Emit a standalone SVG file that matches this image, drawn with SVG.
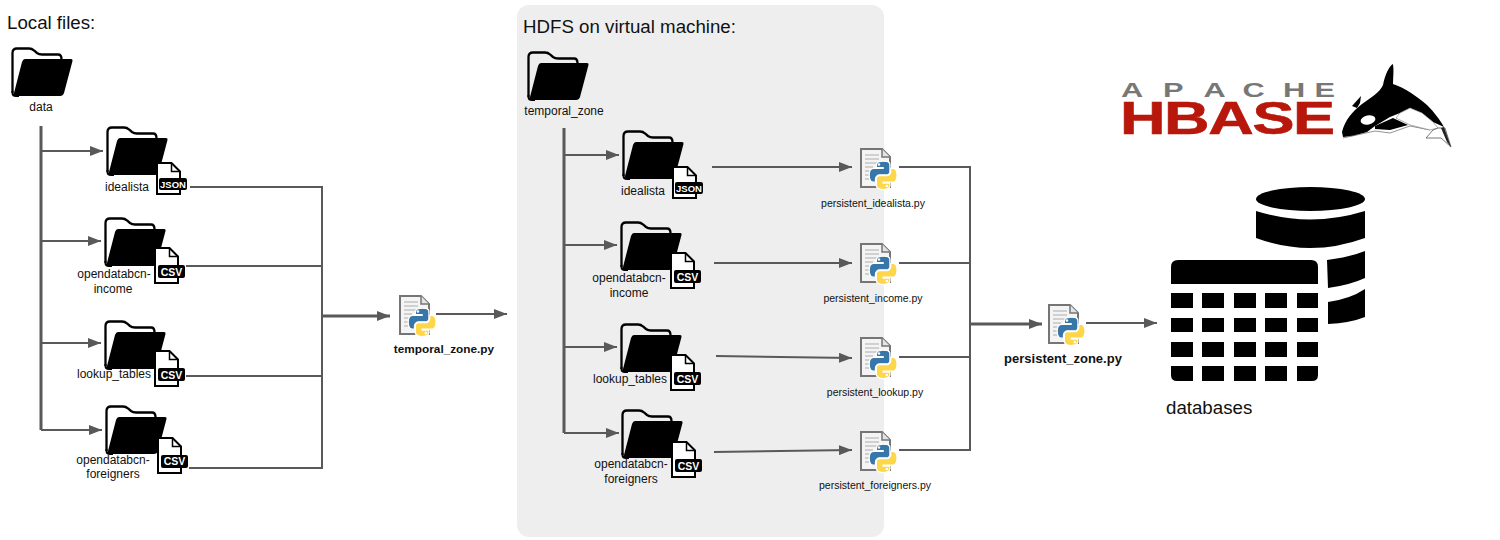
<svg xmlns="http://www.w3.org/2000/svg" width="1500" height="540" viewBox="0 0 1500 540">
<style>
text{font-family:"Liberation Sans",Arial,sans-serif;fill:#111}
.l{font-size:12px;text-anchor:middle}
.p{font-size:10.500px;text-anchor:middle}
.b{font-size:13px;font-weight:bold;text-anchor:middle}
.h{font-size:18.700px}
.c{fill:none;stroke:#595959;stroke-width:2}
.t{fill:none;stroke:#595959;stroke-width:3}
.csv{font-size:10.500px;font-weight:bold;fill:#fff;text-anchor:middle}
.json{font-size:9.500px;font-weight:bold;fill:#fff;text-anchor:middle}
</style>
<defs>
<marker id="a" markerUnits="userSpaceOnUse" markerWidth="13" markerHeight="10" refX="13" refY="5" orient="auto"><path d="M0,0L13,5L0,10Z" fill="#595959"/></marker>
<symbol id="folder" overflow="visible" width="62" height="50">
<path d="M1.500,46V6Q1.500,1.500 6,1.500H18Q21,1.500 23,3.500L26,6Q28,7.500 31,7.500H47Q50.500,7.500 50.500,12" fill="none" stroke="#000" stroke-width="2.300"/>
<path d="M1.500,44V46Q1.500,49 5,49H8" fill="none" stroke="#000" stroke-width="2"/>
<path d="M14,12H60Q62,12 61.500,14L53,46Q52,49 49,49H5Q2,49 3,46L11,15Q12,12 14,12Z" fill="#000"/>
</symbol>
<symbol id="csvdoc" overflow="visible" width="31" height="38">
<path d="M1,1H15.500L24,9.500V36H1Z" fill="#fff" stroke="#000" stroke-width="2"/>
<path d="M15.500,1V9.500H24" fill="none" stroke="#000" stroke-width="1.500"/>
<rect x="4" y="18" width="27" height="13" rx="2" fill="#000"/>
</symbol>
<symbol id="jsondoc" overflow="visible" width="31" height="33">
<path d="M1,1H15.500L24,9.500V32H1Z" fill="#fff" stroke="#000" stroke-width="2"/>
<path d="M15.500,1V9.500H24" fill="none" stroke="#000" stroke-width="1.500"/>
<rect x="3" y="16" width="28" height="12" rx="2" fill="#000"/>
</symbol>
<symbol id="py" overflow="visible" width="37" height="42">
<path d="M1,1H22L30,9V39H1Z" fill="#f4f4f4" stroke="#757575" stroke-width="2"/>
<path d="M22,1V9H30" fill="#e4e4e4" stroke="#757575" stroke-width="1.500"/>
<path d="M5,7H19M5,11H19M5,15H25M5,19H13M5,23H10M5,27H10M5,31H11" stroke="#c4c4c4" stroke-width="1.500" fill="none"/>
<g transform="translate(9,13) scale(.255)">
<path d="M54.900,.9C50.300,.9 45.900,1.300 42.100,2C30.800,4 28.800,8.100 28.800,15.700V25.800H55.400V29.100H18.800C11.100,29.100 4.300,33.800 2.200,42.600C-.2,52.700 -.3,59 2.200,69.500C4.100,77.300 8.600,82.900 16.300,82.900H25.400V70.800C25.400,62.100 33,54.400 42.100,54.400H68.700C76.100,54.400 82,48.300 82,40.900V15.700C82,8.500 75.900,3.100 68.700,1.900C64,1.100 59.200,.9 54.900,.9Z" fill="#3776a8" stroke="#fff" stroke-width="5"/>
<circle cx="39" cy="14" r="5" fill="#fff"/>
<path d="M85.300,29.100V40.900C85.300,50 77.600,57.700 68.700,57.700H42.100C34.800,57.700 28.800,63.900 28.800,71.200V96.500C28.800,103.700 35,107.900 42.100,110C50.500,112.500 58.600,112.900 68.700,110C75.400,108 82,104.100 82,96.500V86.400H55.400V83H95.300C103,83 105.900,77.600 108.600,69.500C111.400,61.100 111.300,53.100 108.600,42.600C106.700,35 103,29.100 95.300,29.100Z" fill="#fdd64a" stroke="#fff" stroke-width="5"/>
<circle cx="70" cy="98" r="5" fill="#fff"/>
</g>
</symbol>
</defs>

<rect id="hdfs-panel" x="517" y="5" width="367" height="532" rx="12" fill="#eeeeee"/>

<g id="connectors">
<path class="t" d="M41,126V430"/>
<path class="c" d="M41,151H103" marker-end="url(#a)"/>
<path class="c" d="M41,241H101" marker-end="url(#a)"/>
<path class="c" d="M41,343H101" marker-end="url(#a)"/>
<path class="c" d="M41,430H102" marker-end="url(#a)"/>
<path class="c" d="M190,187H322V468H189"/>
<path class="c" d="M186,266H322"/>
<path class="c" d="M186,376H322"/>
<path class="t" d="M322,316H390" marker-end="url(#a)"/>
<path class="c" d="M436,314H507" marker-end="url(#a)"/>
<path class="t" d="M564,128V433"/>
<path class="c" d="M564,155H619" marker-end="url(#a)"/>
<path class="c" d="M564,245H617" marker-end="url(#a)"/>
<path class="c" d="M564,347H617" marker-end="url(#a)"/>
<path class="c" d="M564,433H619" marker-end="url(#a)"/>
<path class="c" d="M712,167H852" marker-end="url(#a)"/>
<path class="c" d="M714,263H852" marker-end="url(#a)"/>
<path class="c" d="M716,356L852,358" marker-end="url(#a)"/>
<path class="c" d="M714,452L852,450" marker-end="url(#a)"/>
<path class="c" d="M899,167H970V450H899"/>
<path class="c" d="M899,263H970"/>
<path class="c" d="M899,357H970"/>
<path class="t" d="M970,324H1042" marker-end="url(#a)"/>
<path class="c" d="M1086,323H1157" marker-end="url(#a)"/>
</g>

<text id="title-local" class="h" x="7" y="29">Local files:</text>
<text id="title-hdfs" class="h" x="523" y="33">HDFS on virtual machine:</text>

<g id="local-data"><use href="#folder" x="11" y="47"/><text class="l" x="41" y="111">data</text></g>
<g id="local-idealista"><use href="#folder" x="106" y="126"/><use href="#jsondoc" x="156" y="162"/><text class="json" x="173" y="187.500">JSON</text><text class="l" x="127" y="191">idealista</text></g>
<g id="local-income"><use href="#folder" x="104" y="217"/><use href="#csvdoc" x="154" y="247"/><text class="csv" x="171.500" y="275.500">CSV</text><text class="l" x="114" y="278">opendatabcn-</text><text class="l" x="113" y="293">income</text></g>
<g id="local-lookup"><use href="#folder" x="104" y="320"/><use href="#csvdoc" x="154" y="350"/><text class="csv" x="171.500" y="378.500">CSV</text><text class="l" x="114" y="378">lookup_tables</text></g>
<g id="local-foreigners"><use href="#folder" x="105" y="405"/><use href="#csvdoc" x="157" y="437"/><text class="csv" x="174.500" y="465">CSV</text><text class="l" x="113" y="464">opendatabcn-</text><text class="l" x="113" y="478">foreigners</text></g>

<g id="hdfs-temporal"><use href="#folder" x="527" y="51"/><text class="l" x="564" y="115">temporal_zone</text></g>
<g id="hdfs-idealista"><use href="#folder" x="622" y="130"/><use href="#jsondoc" x="672" y="166"/><text class="json" x="689" y="191.500">JSON</text><text class="l" x="643" y="195">idealista</text></g>
<g id="hdfs-income"><use href="#folder" x="620" y="221"/><use href="#csvdoc" x="670" y="252"/><text class="csv" x="687.500" y="280.500">CSV</text><text class="l" x="629" y="282">opendatabcn-</text><text class="l" x="629" y="297">income</text></g>
<g id="hdfs-lookup"><use href="#folder" x="620" y="323"/><use href="#csvdoc" x="670" y="354"/><text class="csv" x="687.500" y="382.500">CSV</text><text class="l" x="630" y="383">lookup_tables</text></g>
<g id="hdfs-foreigners"><use href="#folder" x="621" y="409"/><use href="#csvdoc" x="671" y="441"/><text class="csv" x="688.500" y="469.500">CSV</text><text class="l" x="631" y="468">opendatabcn-</text><text class="l" x="631" y="483">foreigners</text></g>

<g id="temporal-script"><use href="#py" x="399" y="295"/><text class="b" style="font-size:11.800px" x="444" y="353">temporal_zone.py</text></g>
<g id="persistent-idealista"><use href="#py" x="860" y="148"/><text class="p" x="873" y="207">persistent_idealista.py</text></g>
<g id="persistent-income"><use href="#py" x="860" y="243"/><text class="p" x="873" y="302">persistent_income.py</text></g>
<g id="persistent-lookup"><use href="#py" x="860" y="337"/><text class="p" x="875" y="396">persistent_lookup.py</text></g>
<g id="persistent-foreigners"><use href="#py" x="860" y="431"/><text class="p" x="875" y="489">persistent_foreigners.py</text></g>
<g id="persistent-script"><use href="#py" x="1048" y="304"/><text class="b" x="1063" y="363">persistent_zone.py</text></g>

<g id="databases">
<ellipse cx="1310.500" cy="199" rx="54.500" ry="12"/>
<path d="M1256,211Q1310,228 1365,211V238Q1310,258 1256,238Z"/>
<path d="M1327,260Q1350,257 1365,251V278Q1350,285 1328,288Z"/>
<path d="M1328,302Q1350,299 1365,289V317Q1350,323 1328,324Z"/>
<path d="M1171,284V267Q1171,260 1178,260H1311Q1318,260 1318,267V284Z"/>
<g>
<rect x="1202" y="293" width="22" height="15"/><rect x="1234" y="293" width="22" height="15"/><rect x="1265" y="293" width="22" height="15"/><rect x="1171" y="293" width="22" height="15"/><rect x="1297" y="293" width="21" height="15"/>
<rect x="1202" y="318" width="22" height="14"/><rect x="1234" y="318" width="22" height="14"/><rect x="1265" y="318" width="22" height="14"/><rect x="1171" y="318" width="22" height="14"/><rect x="1297" y="318" width="21" height="14"/>
<rect x="1202" y="342" width="22" height="15"/><rect x="1234" y="342" width="22" height="15"/><rect x="1265" y="342" width="22" height="15"/><rect x="1171" y="342" width="22" height="15"/><rect x="1297" y="342" width="21" height="15"/>
<rect x="1202" y="366" width="22" height="15"/><rect x="1234" y="366" width="22" height="15"/><rect x="1265" y="366" width="22" height="15"/>
<path d="M1171,366H1193V381H1177Q1171,381 1171,375Z"/><path d="M1297,366H1318V375Q1318,381 1312,381H1297Z"/>
</g>
<text class="h" x="1166" y="414">databases</text>
</g>

<g id="hbase-logo">
<text transform="translate(1121,97) scale(1.5,1)" font-size="20.500" font-weight="bold" x="0 28 55 81 108 129" style="fill:#777">APACHE</text>
<text transform="translate(1120,134) scale(1.37,1)" font-size="46" font-weight="bold" textLength="157" lengthAdjust="spacing" style="fill:#b8170b;stroke:#b8170b;stroke-width:.6px">HBASE</text>
<path d="M1342,132C1345,120 1352,112 1362,104C1372,97 1380,92 1383,85C1385,75 1389,66 1393,64C1394,70 1393,78 1393,84C1405,88 1418,97 1427,105C1435,113 1440,120 1444,127L1433,122L1422,113L1410,108L1400,113L1390,117L1375,126L1367,132L1353,136L1343,137Z"/>
<path d="M1352,106L1361,96L1360,103L1357,108Z"/>
<ellipse cx="1368" cy="120" rx="7.500" ry="4.500" fill="#fff" transform="rotate(-12 1368 120)"/>
<path d="M1375,126L1393,118L1408,125L1390,130L1375,129Z"/>
<path d="M1343,138L1375,131L1390,133L1410,126L1430,130" fill="none" stroke="#777" stroke-width=".8"/>
<path d="M1400,113L1410,108L1422,113L1433,122L1438,128L1430,130L1410,125L1396,118Z" fill="#fff" stroke="#777" stroke-width=".6"/>
<path d="M1426,138L1433,130L1438,128L1445,128L1451,147L1441,138Z" fill="#fff" stroke="#555" stroke-width=".8"/>
<path d="M1444,127L1451,147L1447,142L1441,128Z" fill="#222"/>
</g>
</svg>
